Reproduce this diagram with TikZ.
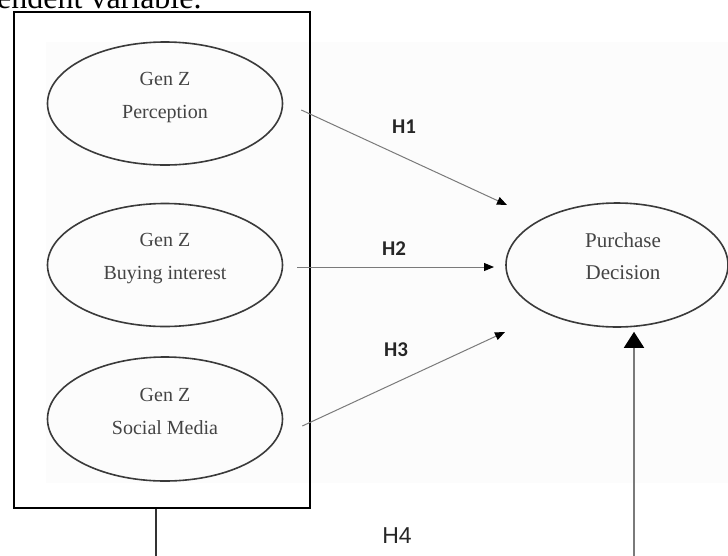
\documentclass[tikz,border=0pt]{standalone}
\usepackage{fontspec}
\setmainfont{Liberation Serif}
\newfontfamily\hypfont{Carlito}
\newfontfamily\hfourfont{Liberation Sans}
\usetikzlibrary{shapes.geometric,arrows.meta}
\definecolor{ovalgray}{HTML}{3A3A3A}
\definecolor{wordgray}{HTML}{444444}
\definecolor{pathgray}{HTML}{7A7A7A}
\tikzset{
  construct/.style={ellipse,draw=ovalgray,line width=1.6pt,minimum width=235pt,minimum height=123pt,inner sep=0pt},
  constructtext/.style={text=wordgray,align=center,font=\fontsize{20}{33}\selectfont},
  hyp/.style={draw=pathgray,line width=1pt,-{Triangle[length=10pt,width=8pt,color=black]}},
  hyplabel/.style={font=\hypfont\bfseries\fontsize{21}{21}\selectfont,text=black!85,inner sep=0pt},
}
\begin{document}
\begin{tikzpicture}[x=1pt,y=-1pt]
     \useasboundingbox (0,0) rectangle (728,555);
     \clip (0,0) rectangle (728,555);
     \fill[black!1] (46,42) rectangle (728,483);
     \node[anchor=base west,inner sep=0pt,font=\fontsize{32}{32}\selectfont] (caption) at (-3,8){endent variable.};
     \node[draw,line width=1.5pt,minimum width=296pt,minimum height=496pt,inner sep=0pt] (block) at (162,260){};
     \node[construct,label={[constructtext,yshift=6pt]center:{Gen Z\\Perception}}] (perc) at (165,103.5){};
     \node[construct,label={[constructtext,yshift=6pt]center:{Gen Z\\Buying interest}}] (buy) at (165,265){};
     \node[construct,minimum height=124pt,label={[constructtext,yshift=8pt]center:{Gen Z\\Social Media}}] (social) at (165,419){};
     \node[construct,minimum width=222pt,minimum height=124pt,label={[constructtext,xshift=6pt,yshift=9pt,font=\fontsize{21}{32}\selectfont]center:{Purchase\\Decision}}] (purch) at (617,265){};
     \coordinate (h1tip) at (507,205);
     \coordinate (h2tip) at (494,267);
     \coordinate (h3tip) at (505,332);
     \coordinate (h4a) at (156,560);
     \coordinate (h4b) at (634,560);
     \draw[hyp] ([xshift=18pt,yshift=-6.5pt]perc.east) -- (h1tip);
     \draw[hyp] ([xshift=14pt,yshift=-2pt]buy.east) -- (h2tip);
     \draw[hyp] ([xshift=19pt,yshift=-7pt]social.east) -- (h3tip);
     \node[hyplabel] (h1) at (404,127){H1};
     \node[hyplabel] (h2) at (394,249){H2};
     \node[hyplabel] (h3) at (396,350){H3};
     \draw[line width=1.3pt,draw=black!80] ([xshift=-6pt]block.south) -- (h4a);
     \draw[draw=pathgray,line width=1.8pt,-{Triangle[length=16pt,width=20pt,color=black]}] (h4b) -- ([xshift=17pt,yshift=-4pt]purch.south);
     \node[font=\hfourfont\fontsize{23}{23}\selectfont,text=black!85,inner sep=0pt] (h4) at (397,536){H4};
\end{tikzpicture}
\end{document}
